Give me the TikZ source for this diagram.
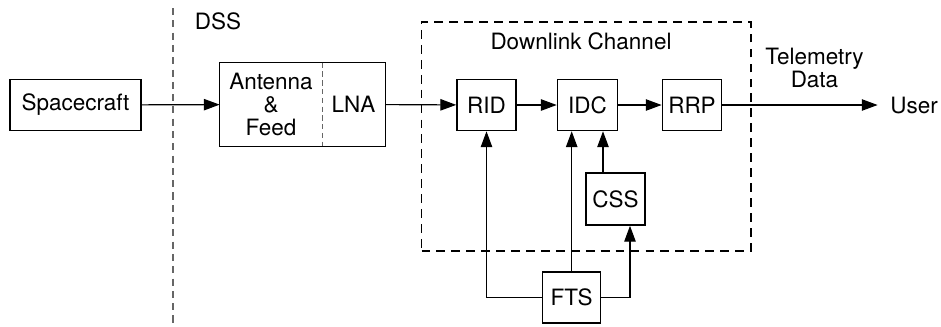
\documentclass[tikz,border=0pt]{standalone}
\usepackage{fontspec}
\setmainfont{TeX Gyre Heros}
\usepackage{tikz}
\usetikzlibrary{arrows.meta, positioning, calc}

\begin{document}
\begin{tikzpicture}[x=0.02cm, y=-0.02cm,
    every node/.style={font=\fontsize{12.8}{13}\selectfont},
    block/.style={draw, line width=0.9pt, minimum width=1.18cm, minimum height=1.02cm},
    arr/.style={-{Triangle[length=9pt, width=6.5pt]}, line width=0.65pt},
    channel/.style={draw, dashed, line width=1pt, dash pattern=on 5pt off 3.5pt}]
    \useasboundingbox (0,0) rectangle (941,326);

    % Nodes
    \node (spacecraft) at (75.5,105) [block, minimum width=2.62cm] {Spacecraft};

    \coordinate (dss_top) at (173,8);
    \coordinate (dss_bottom) at (173,326);
    \node (dss) at (218,21) {DSS};

    \node (antenna) at (271,104.5) [minimum width=2.04cm, minimum height=1.66cm, align=center] {Antenna\\\&\\Feed};
    \node (lna) at (353.5,104.5) [minimum width=1.26cm, minimum height=1.66cm] {LNA};

    \node (downlink) at (586.25,136.2) [channel, minimum width=6.59cm, minimum height=4.58cm] {};
    \node (downlink_label) at (581,41.7) {Downlink Channel};

    \node (rid) at (486.5,105) [block] {RID};
    \node (idc) at (587.5,105) [block, minimum width=1.2cm] {IDC};
    \node (rrp) at (692,105) [block] {RRP};
    \node (css) at (615.5,199) [block, minimum height=1.04cm] {CSS};
    \node (fts) at (571.7,297.3) [block, minimum width=1.16cm] {FTS};

    \node (telemetry) at (814.5,68) [align=center] {Telemetry\\Data};
    \node (user) at (914,105) [inner xsep=7pt] {User};

    \coordinate (css_out) at ([xshift=-0.25cm]css.north);
    \coordinate (css_in) at ([xshift=0.29cm]css.south);

    % Edges
    \draw[line width=0.6pt, gray!80!black, dash pattern=on 4pt off 3pt] (dss_top) -- (dss_bottom);
    \draw[line width=0.9pt] (antenna.north west) rectangle (lna.south east);
    \draw[line width=0.5pt, gray!80!black, dash pattern=on 3pt off 2pt] (antenna.north east) -- (antenna.south east);

    \draw[arr] (spacecraft) -- (antenna);
    \draw[arr] (lna) -- (rid);
    \draw[arr] (rid) -- (idc);
    \draw[arr] (idc) -- (rrp);
    \draw[arr] (rrp) -- (user);

    \draw[arr] (fts.west) -| (rid.south);
    \draw[arr] (fts.north) -- (fts.north |- idc.south);
    \draw[arr] (css_out) -- (css_out |- idc.south);
    \draw[arr] (fts.east) -| (css_in);

\end{tikzpicture}
\end{document}
